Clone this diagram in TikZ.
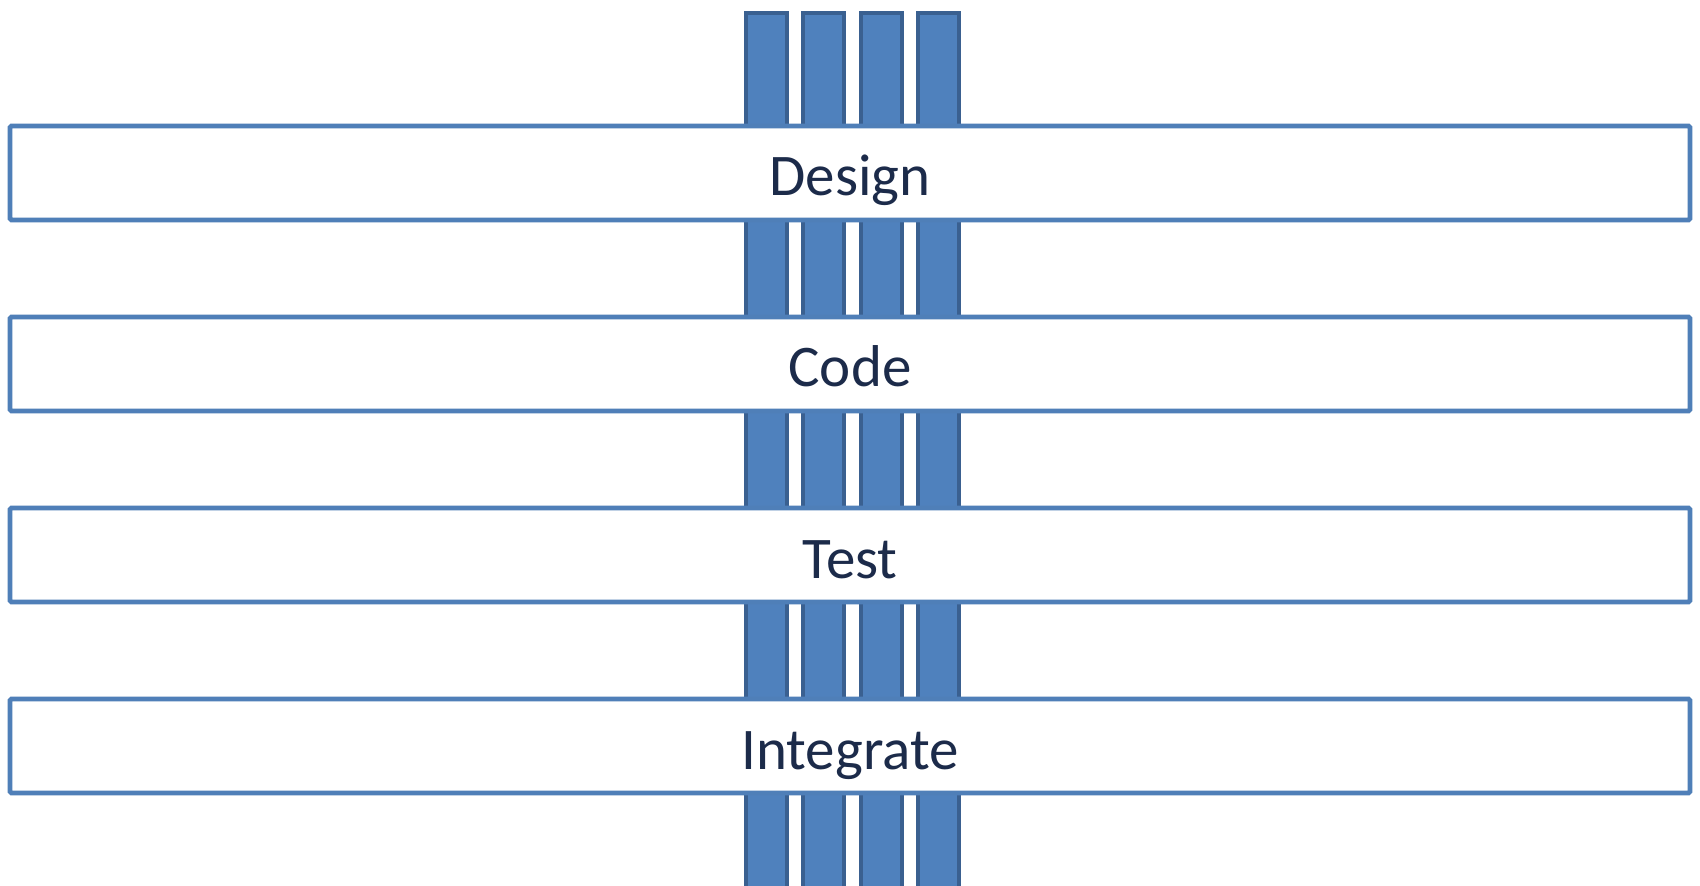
\documentclass[tikz,border=0pt]{standalone}
\usepackage{fontspec}
\setmainfont{Carlito}
\definecolor{barfill}{HTML}{4F81BD}
\definecolor{barline}{HTML}{3A6090}
\definecolor{boxline}{HTML}{4F7FB8}
\definecolor{txt}{HTML}{1C2B4A}
\begin{document}
\begin{tikzpicture}[x=0.5pt,y=-0.5pt,
  barbox/.style={rectangle, fill=barfill, draw=barline, line width=2pt,
    minimum width=20.5pt, minimum height=450pt, inner sep=0pt, anchor=north},
  stage/.style={rectangle, fill=white, draw=boxline, line width=2.4pt,
    minimum width=840pt, minimum height=47pt, inner sep=0pt,
    font=\fontsize{29.5}{34}\selectfont, text=txt, rounded corners=0.8pt,
    text height=23pt, text depth=0pt}]
\useasboundingbox (0,0) rectangle (1700,886);
\clip (0,0) rectangle (1700,886);
\fill[white] (0,0) rectangle (1700,886);
\node[barbox] (b1) at (766.5,11) {};
\node[barbox] (b2) at (823.5,11) {};
\node[barbox] (b3) at (881.5,11) {};
\node[barbox] (b4) at (938.5,11) {};
\node[stage] (design) at (850,173) {Design};
\node[stage] (code) at (850,364) {Code};
\node[stage] (test) at (850,555) {Test};
\node[stage] (integrate) at (850,746) {Integrate};
\end{tikzpicture}
\end{document}
